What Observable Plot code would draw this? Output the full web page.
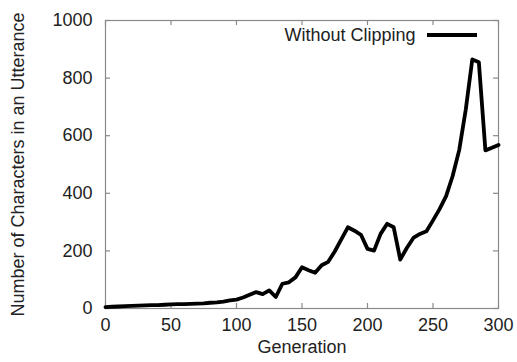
<!DOCTYPE html>
<html>
<head>
<meta charset="utf-8">
<script src="https://cdn.jsdelivr.net/npm/d3@7"></script>
<script src="https://cdn.jsdelivr.net/npm/@observablehq/plot@0.6"></script>
<style>
  html, body { margin: 0; padding: 0; background: #fff; }
  #chart { width: 517px; height: 362px; }
  svg { font-family: "Liberation Sans", Arial, sans-serif; }
</style>
</head>
<body>
<div id="chart"></div>
<script>
const generations = [0,5,10,15,20,25,30,35,40,45,50,55,60,65,70,75,80,85,90,95,100,105,110,115,120,125,130,135,140,145,150,155,160,165,170,175,180,185,190,195,200,205,210,215,220,225,230,235,240,245,250,255,260,265,270,275,280,285,290,295,300];
const characters = [5,6,7,8,9,10,11,12,12,13,14,15,15,16,17,18,20,21,24,28,31,38,48,57,50,63,40,86,91,108,143,133,124,150,162,198,240,282,270,256,207,201,259,294,282,170,210,245,259,268,306,345,390,460,550,690,865,855,549,558,568];
const xTicks = [0,50,100,150,200,250,300];
const yTicks = [0,200,400,600,800,1000];
const seriesName = "Without Clipping";
const xLabel = "Generation";
const yLabel = "Number of Characters in an Utterance";

const data = generations.map((g, i) => ({gen: g, chars: characters[i]}));

const W = 517, H = 362;
const mL = 105, mR = 19, mT = 20, mB = 54;
const innerH = H - mT - mB, innerW = W - mL - mR;
const tickLen = 5;
const gray = "#8a8a8a";
const fs = 18;

const chart = Plot.plot({
  width: W,
  height: H,
  marginLeft: mL,
  marginRight: mR,
  marginTop: mT,
  marginBottom: mB,
  style: {fontFamily: '"Liberation Sans", Arial, sans-serif', fontSize: fs + "px", color: "#222", background: "#fff"},
  x: {domain: [0, 300]},
  y: {domain: [0, 1000]},
  marks: [
    Plot.frame({stroke: gray, strokeWidth: 1.2}),
    Plot.tickX(xTicks, {x: d => d, insetTop: innerH - tickLen, stroke: gray, strokeWidth: 1.2}),
    Plot.tickX(xTicks, {x: d => d, insetBottom: innerH - tickLen, stroke: gray, strokeWidth: 1.2}),
    Plot.tickY(yTicks, {y: d => d, insetRight: innerW - tickLen, stroke: gray, strokeWidth: 1.2}),
    Plot.tickY(yTicks, {y: d => d, insetLeft: innerW - tickLen, stroke: gray, strokeWidth: 1.2}),
    Plot.axisX(xTicks, {tickSize: 0, tickPadding: 10, fontSize: fs, tickFormat: d => String(d), label: xLabel, labelAnchor: "center", labelOffset: 44, labelArrow: "none"}),
    Plot.axisY(yTicks, {tickSize: 0, tickPadding: 13, fontSize: fs, tickFormat: d => String(d), label: yLabel, labelAnchor: "center", labelOffset: 94, labelArrow: "none"}),
    Plot.line(data, {x: "gen", y: "chars", stroke: "#000", strokeWidth: 3.8, strokeLinejoin: "round", strokeLinecap: "round"}),
    Plot.text([seriesName], {text: d => d, frameAnchor: "top-right", dx: -83, dy: 15, textAnchor: "end", lineAnchor: "middle", fontSize: fs, fill: "#222"})
  ]
});

const svg = d3.select(chart);
svg.append("line")
  .attr("x1", 427).attr("x2", 477)
  .attr("y1", mT + 15).attr("y2", mT + 15)
  .attr("stroke", "#000").attr("stroke-width", 3.8);

document.getElementById("chart").appendChild(chart);
</script>
</body>
</html>
